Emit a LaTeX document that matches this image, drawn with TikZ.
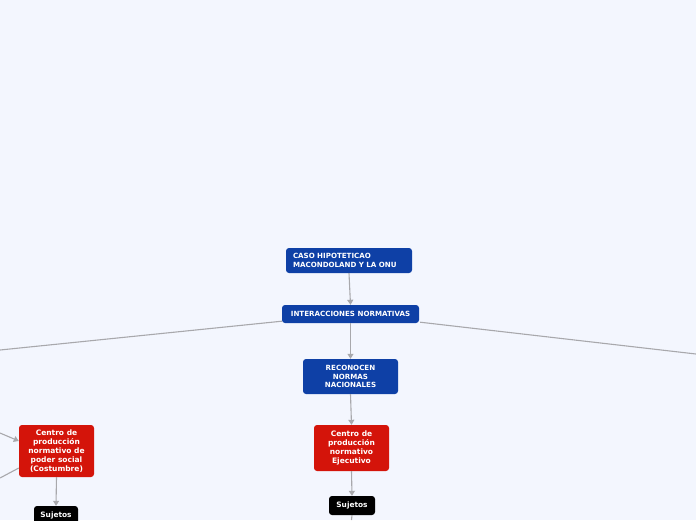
\documentclass[tikz,border=0pt]{standalone}
\usepackage{fontspec}
\setmainfont{DejaVu Sans}
\usetikzlibrary{arrows.meta}
\definecolor{bg}{RGB}{243,246,254}
\definecolor{nblue}{RGB}{14,64,166}
\definecolor{nred}{RGB}{212,20,10}
\definecolor{ngray}{RGB}{168,168,172}
\tikzset{
  box/.style={rounded corners=3pt, text=white, font=\bfseries\fontsize{7.1}{8.6}\selectfont, align=center, inner sep=0pt},
  bluebox/.style={box, fill=nblue},
  redbox/.style={box, fill=nred, font=\bfseries\fontsize{7.5}{9}\selectfont},
  blackbox/.style={box, fill=black, font=\bfseries\fontsize{7.4}{8}\selectfont},
  link/.style={draw=ngray, line width=1.1pt},
  arr/.style={link, -{Triangle[width=6pt,length=5pt]}},
}
\begin{document}
\begin{tikzpicture}[x=1pt,y=-1pt]
\fill[bg] (0,0) rectangle (696,520);
\useasboundingbox (0,0) rectangle (696,520);
\clip (0,0) rectangle (696,520);

\node[bluebox, minimum width=126pt, minimum height=25pt, align=left, text width=112pt] (caso) at (349,260.5) {CASO HIPOTETICAO\\MACONDOLAND Y LA ONU};
\node[bluebox, minimum width=137pt, minimum height=18pt] (inter) at (350.5,314) {INTERACCIONES NORMATIVAS};
\node[bluebox, minimum width=95pt, minimum height=35pt] (recon) at (350.5,376.5) {RECONOCEN\\NORMAS\\NACIONALES};
\node[redbox, minimum width=75pt, minimum height=46pt] (ejec) at (351.5,448) {Centro de\\producción\\normativo\\Ejecutivo};
\node[blackbox, minimum width=46pt, minimum height=19pt] (suj) at (352,505.5) {Sujetos};
\node[redbox, minimum width=75pt, minimum height=52pt] (cost) at (56.5,451) {Centro de\\producción\\normativo de\\poder social\\(Costumbre)};
\node[blackbox, minimum width=44pt, minimum height=19pt] (sujl) at (56,515.5) {Sujetos};

\coordinate (lfar) at (0,350);
\coordinate (rfar) at (696,354);
\coordinate (lin) at (0,433);
\coordinate (lout) at (0,478);
\coordinate (down) at (351.5,520);

\draw[arr] (caso.south) -- (inter.north);
\draw[arr] (inter.south) -- (recon.north);
\draw[arr] (recon.south) -- (ejec.north);
\draw[arr] (ejec.south) -- (suj.north);
\draw[link] (suj.south) -- (down);
\draw[link] (inter.south west) ++(0,-2) coordinate (ils) -- (lfar);
\draw[link] (inter.south east) ++(1,-1) coordinate (irs) -- (rfar);
\draw[arr] (lin) -- ([yshift=10pt]cost.west);
\draw[link] ([yshift=-17pt]cost.west) -- (lout);
\draw[arr] (cost.south) -- (sujl.north);
\end{tikzpicture}
\end{document}
